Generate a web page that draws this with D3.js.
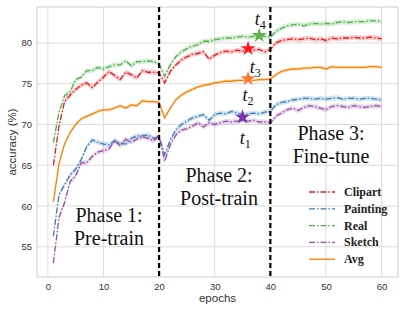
<!DOCTYPE html>
<html>
<head>
<meta charset="utf-8">
<script src="https://cdn.jsdelivr.net/npm/d3@7"></script>
<style>
  body { margin: 0; background: #fff; }
  svg { display: block; }
</style>
</head>
<body>
<div id="chart"></div>
<script>
// data
const epochs = d3.range(1, 61);
const clipart = [65.0, 69.8, 72.8, 73.6, 74.3, 74.8, 75.1, 74.5, 75.2, 75.8, 76.5, 76.0, 75.5, 76.4, 76.1, 75.7, 76.6, 76.4, 76.4, 76.3,
  75.1, 76.5, 77.3, 77.9, 78.3, 78.6, 78.7, 78.9, 78.0, 78.5, 78.8, 79.0, 78.9, 79.1, 79.0, 79.2, 79.1, 79.2, 78.9, 79.2,
  80.0, 80.3, 80.4, 80.5, 80.4, 80.5, 80.6, 80.4, 80.5, 80.3, 80.6, 80.5, 80.6, 80.6, 80.7, 80.6, 80.6, 80.7, 80.6, 80.5];
const painting = [56.3, 61.4, 62.6, 63.8, 64.5, 65.7, 67.3, 68.1, 67.8, 67.6, 67.5, 68.0, 67.7, 67.6, 68.3, 68.6, 68.6, 68.7, 68.3, 68.5,
  66.3, 68.1, 69.3, 70.0, 70.4, 70.8, 71.0, 71.2, 70.5, 71.2, 71.4, 71.3, 71.6, 71.4, 71.2, 71.3, 71.4, 71.3, 71.5, 71.6,
  72.4, 72.7, 72.8, 73.0, 73.1, 73.2, 73.2, 73.1, 73.2, 73.1, 73.2, 73.3, 73.1, 73.2, 73.2, 73.1, 73.2, 73.2, 73.1, 73.0];
const real = [67.8, 71.5, 73.5, 74.0, 75.5, 75.8, 76.6, 76.6, 77.0, 76.8, 77.1, 77.3, 77.3, 77.8, 77.2, 77.7, 77.7, 77.8, 77.7, 77.4,
  75.9, 77.3, 78.3, 78.9, 79.3, 79.6, 79.8, 80.2, 80.2, 80.4, 80.5, 80.6, 80.6, 80.7, 80.8, 80.7, 80.8, 80.9, 80.8, 80.7,
  81.4, 81.8, 82.1, 82.2, 82.3, 82.1, 82.3, 82.4, 82.3, 82.4, 82.3, 82.5, 82.6, 82.5, 82.6, 82.6, 82.6, 82.7, 82.7, 82.6];
const sketch = [53.0, 58.6, 60.4, 63.0, 63.7, 65.3, 65.3, 66.1, 66.6, 66.8, 67.0, 68.0, 67.4, 68.2, 67.8, 68.2, 68.5, 68.3, 68.0, 68.6,
  65.5, 67.5, 68.7, 69.3, 69.5, 69.8, 70.2, 69.7, 70.2, 70.0, 70.2, 70.4, 70.3, 70.4, 70.5, 70.4, 70.5, 70.3, 70.3, 70.2,
  71.0, 71.4, 71.8, 72.0, 71.7, 72.1, 72.3, 72.2, 72.0, 71.8, 72.2, 72.3, 72.2, 72.1, 72.3, 72.2, 72.1, 72.2, 72.3, 72.2];
const avg = [60.5, 65.2, 67.6, 69.0, 70.0, 70.7, 71.0, 71.3, 71.6, 71.8, 71.8, 72.0, 72.3, 72.0, 72.4, 72.3, 72.9, 72.8, 72.8, 72.7,
  70.8, 72.0, 73.0, 73.6, 74.0, 74.3, 74.6, 74.8, 74.9, 75.1, 75.2, 75.3, 75.3, 75.4, 75.4, 75.5, 75.4, 75.5, 75.5, 75.6,
  76.1, 76.5, 76.7, 76.8, 76.8, 76.9, 76.9, 77.0, 77.0, 76.8, 77.1, 77.0, 77.0, 77.0, 77.0, 77.0, 77.0, 77.1, 77.1, 77.0];

const seriesNames = ["Clipart", "Painting", "Real", "Sketch", "Avg"];
const seriesValues = [clipart, painting, real, sketch, avg];
const seriesColors = ["#e41a1c", "#377eb8", "#4daf4a", "#984ea3", "#ff7f00"];
const seriesSpread = [0.3, 0.3, 0.3, 0.3, 0.2];   // half-width of the shaded band

const xTicks = [0, 10, 20, 30, 40, 50, 60];
const yTicks = [55, 60, 65, 70, 75, 80];
const phaseBounds = [20, 40];

// marked points t1..t4
const starLabels = ["1", "2", "3", "4"];
const starEpochs = [35, 36, 36, 38];
const starValues = [70.9, 75.6, 79.3, 80.9];
const starColors = ["#7b2fa8", "#f47a35", "#ff1a1a", "#5fb24e"];
// where the t_i captions sit (epoch, accuracy)
const tPos = [[34.5, 67.6], [35.0, 72.9], [36.3, 76.3], [37.2, 82.2]];

const phaseText = [["Phase 1:", "Pre-train"], ["Phase 2:", "Post-train"], ["Phase 3:", "Fine-tune"]];

const W = 407, H = 313;
const margin = {top: 7, right: 9, bottom: 36, left: 37};
const width = W - margin.left - margin.right;
const height = H - margin.top - margin.bottom;

const svg = d3.select("#chart").append("svg").attr("width", W).attr("height", H);
const g = svg.append("g").attr("transform", `translate(${margin.left},${margin.top})`);

const x = d3.scaleLinear().domain([-1.95, 62.95]).range([0, width]);
const y = d3.scaleLinear().domain([51.3, 84.4]).range([height, 0]);

// grid
g.append("g").selectAll("line").data(xTicks).join("line")
    .attr("x1", d => x(d)).attr("x2", d => x(d)).attr("y1", 0).attr("y2", height)
    .attr("stroke", "#dcdcdc").attr("stroke-width", 1);
g.append("g").selectAll("line").data(yTicks).join("line")
    .attr("y1", d => y(d)).attr("y2", d => y(d)).attr("x1", 0).attr("x2", width)
    .attr("stroke", "#dcdcdc").attr("stroke-width", 1);

// axes (labels only, seaborn whitegrid style)
const xAxis = g.append("g").attr("transform", `translate(0,${height})`)
    .call(d3.axisBottom(x).tickValues(xTicks).tickSize(0).tickPadding(6));
const yAxis = g.append("g")
    .call(d3.axisLeft(y).tickValues(yTicks).tickSize(0).tickPadding(5));
[xAxis, yAxis].forEach(a => {
    a.select(".domain").remove();
    a.selectAll("text").attr("font-family", "Liberation Sans, Arial, sans-serif")
        .attr("font-size", 9.5).attr("fill", "#333");
});

g.append("rect").attr("width", width).attr("height", height)
    .attr("fill", "none").attr("stroke", "#cccccc").attr("stroke-width", 1);

// bands and lines
const area = d3.area().x((d, i) => x(epochs[i]));
const line = d3.line().x((d, i) => x(epochs[i])).y(d => y(d));

seriesValues.forEach((vals, k) => {
    g.append("path").datum(vals)
        .attr("d", area.y0(d => y(d - seriesSpread[k])).y1(d => y(d + seriesSpread[k])))
        .attr("fill", seriesColors[k]).attr("opacity", 0.22);
});
seriesValues.forEach((vals, k) => {
    g.append("path").datum(vals)
        .attr("d", line)
        .attr("fill", "none")
        .attr("stroke", seriesColors[k])
        .attr("stroke-width", 1.3)
        .attr("stroke-dasharray", seriesNames[k] === "Avg" ? null : "6,2,1.5,2");
});

// phase boundaries
g.append("g").selectAll("line").data(phaseBounds).join("line")
    .attr("x1", d => x(d)).attr("x2", d => x(d)).attr("y1", 0).attr("y2", height)
    .attr("stroke", "#000").attr("stroke-width", 2.2).attr("stroke-dasharray", "5,3");

// stars
g.append("g").selectAll("path").data(starEpochs).join("path")
    .attr("transform", (d, i) => `translate(${x(d)},${y(starValues[i])})`)
    .attr("d", d3.symbol(d3.symbolStar, 70))
    .attr("fill", (d, i) => starColors[i]);

// t_i labels
tPos.forEach((p, i) => {
    const t = g.append("text")
        .attr("x", x(p[0])).attr("y", y(p[1]))
        .attr("font-family", "Liberation Serif, Times New Roman, serif")
        .attr("font-size", 18).attr("fill", "#111");
    t.append("tspan").attr("font-style", "italic").text("t");
    t.append("tspan").attr("font-size", 12).attr("dy", 4).text(starLabels[i]);
});

// phase captions
const phaseCenter = [109, 219, 331];
const phaseBase = [222, 182, 140];
phaseText.forEach((lines, i) => {
    lines.forEach((s, j) => {
        svg.append("text")
            .attr("x", phaseCenter[i]).attr("y", phaseBase[i] + j * 23)
            .attr("text-anchor", "middle")
            .attr("font-family", "Liberation Serif, Times New Roman, serif")
            .attr("font-size", 20).attr("fill", "#111")
            .text(s);
    });
});

// legend
const legend = svg.append("g").attr("transform", "translate(309,192)");
seriesNames.forEach((name, k) => {
    const row = legend.append("g").attr("transform", `translate(0,${k * 16.8})`);
    row.append("line").attr("x1", 0).attr("x2", 26).attr("y1", 0).attr("y2", 0)
        .attr("stroke", seriesColors[k]).attr("stroke-width", 1.3)
        .attr("stroke-dasharray", name === "Avg" ? null : "6,2,1.5,2");
    row.append("text").attr("x", 35).attr("y", 4)
        .attr("font-family", "Liberation Serif, Times New Roman, serif")
        .attr("font-weight", "bold").attr("font-size", 12).attr("fill", "#222")
        .text(name);
});

// axis titles
svg.append("text").attr("x", margin.left + width / 2).attr("y", 302)
    .attr("text-anchor", "middle")
    .attr("font-family", "Liberation Sans, Arial, sans-serif").attr("font-size", 11.5).attr("fill", "#333")
    .text("epochs");
svg.append("text").attr("transform", `translate(16,${margin.top + height / 2}) rotate(-90)`)
    .attr("text-anchor", "middle")
    .attr("font-family", "Liberation Sans, Arial, sans-serif").attr("font-size", 11.5).attr("fill", "#333")
    .text("accuracy (%)");
</script>
</body>
</html>
